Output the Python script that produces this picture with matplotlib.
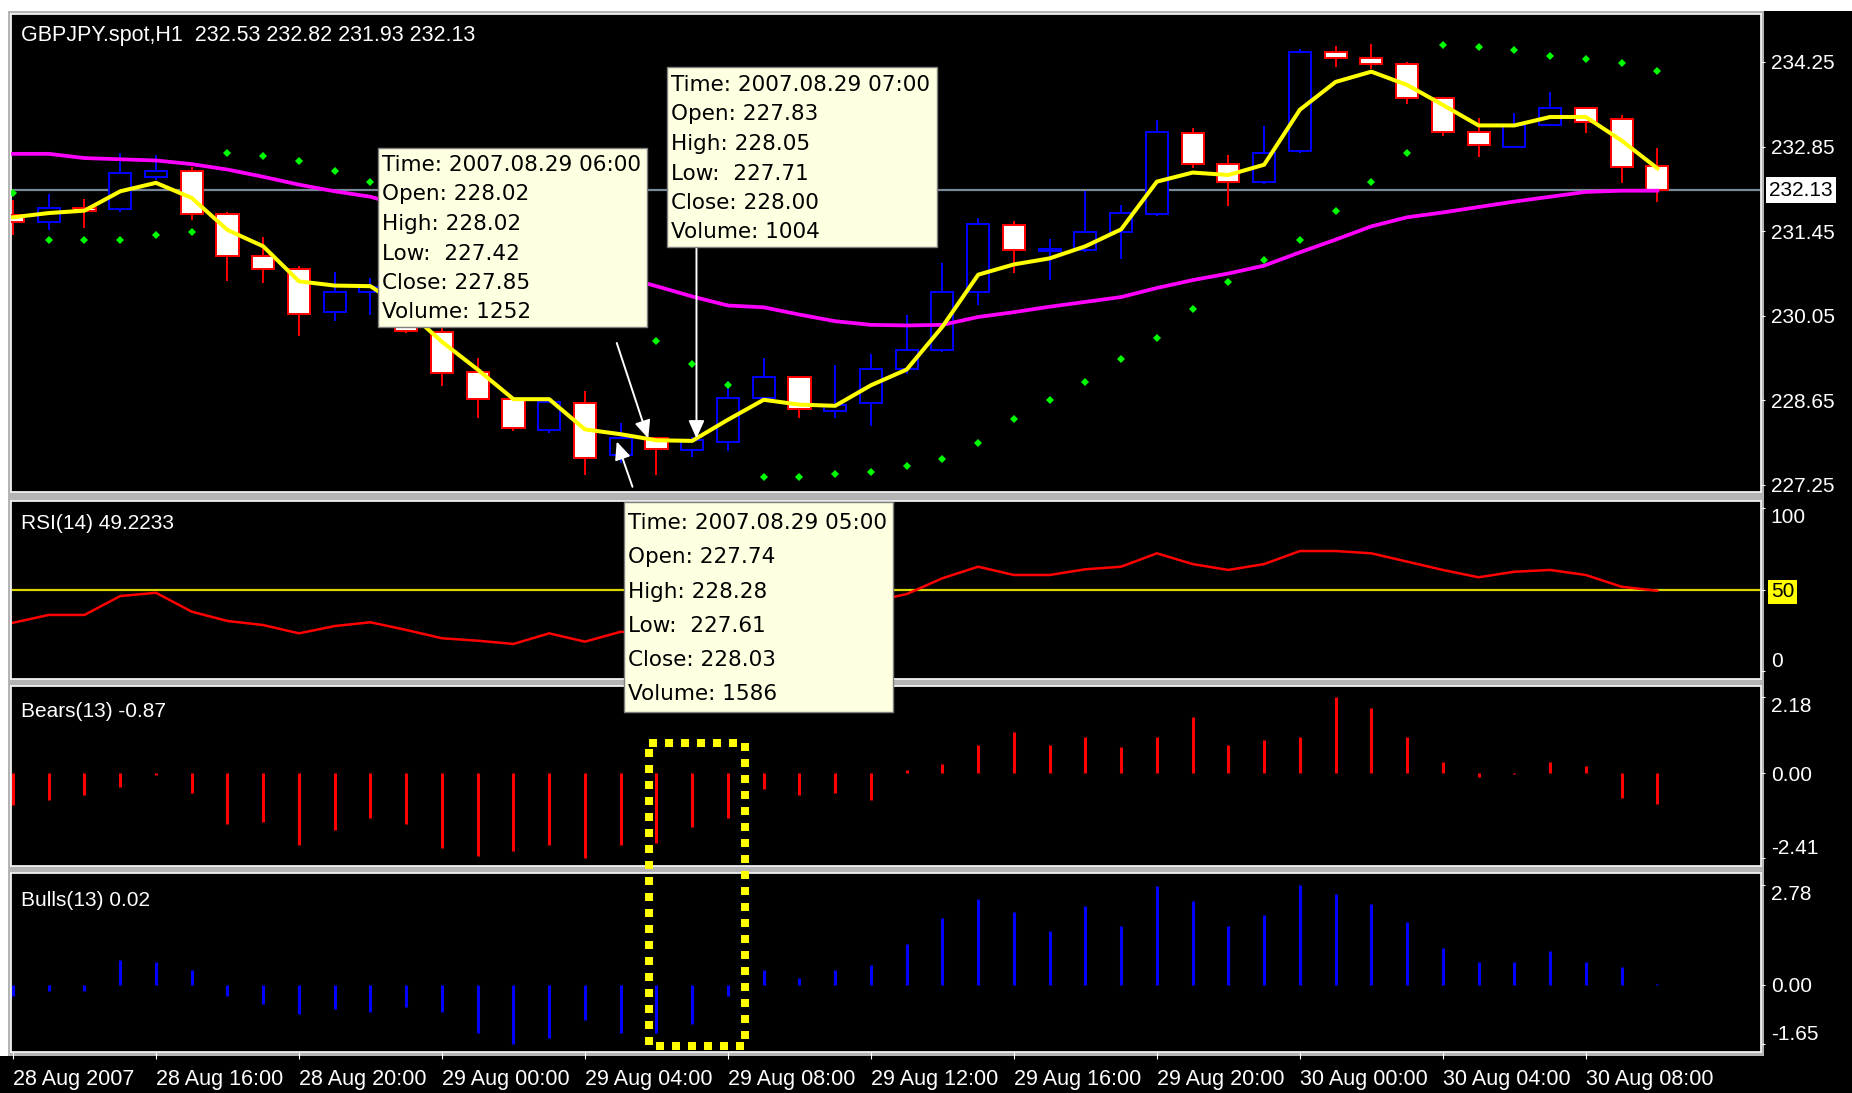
import matplotlib.pyplot as plt
from matplotlib.patches import Rectangle

plt.rcParams['font.family'] = ['Liberation Sans', 'DejaVu Sans']

W, H = 1852, 1093

# GBPJPY.spot H1, one bar per hour, 28 Aug 2007 12:00 .. 30 Aug 2007 10:00
opens = [231.72, 231.61, 231.84, 231.82, 232.35, 232.44, 231.74, 231.04, 230.83, 230.11,
         230.45, 230.50, 229.78, 229.12, 228.67, 228.16, 228.60, 227.74, 228.02, 227.83,
         227.96, 228.69, 229.04, 228.48, 228.60, 229.17, 229.48, 230.44, 231.55, 231.13,
         231.14, 231.43, 231.74, 233.08, 232.56, 232.26, 232.78, 234.41, 234.31, 234.22,
         233.65, 233.09, 232.84, 233.21, 233.49, 233.30, 232.53]
highs = [231.97, 232.07, 231.98, 232.75, 232.71, 232.51, 231.76, 231.36, 230.88, 230.78,
         230.67, 230.60, 229.85, 229.35, 228.68, 228.63, 228.80, 228.28, 228.02, 228.05,
         228.97, 229.35, 229.06, 229.24, 229.41, 230.07, 230.92, 231.67, 231.62, 231.32,
         232.11, 231.88, 233.29, 233.15, 232.71, 233.19, 234.46, 234.51, 234.54, 234.25,
         233.67, 233.32, 233.40, 233.76, 233.51, 233.37, 232.82]
lows = [231.39, 231.47, 231.50, 231.77, 232.30, 231.64, 230.62, 230.60, 229.71, 229.97,
        230.07, 229.76, 228.88, 228.36, 228.14, 228.11, 227.42, 227.61, 227.42, 227.71,
        227.82, 228.65, 228.36, 228.36, 228.22, 229.08, 229.45, 230.23, 230.76, 230.64,
        231.10, 230.99, 231.70, 232.50, 231.86, 232.23, 232.74, 234.17, 234.13, 233.56,
        233.03, 232.68, 232.82, 233.19, 233.07, 232.25, 231.93]
closes = [231.60, 231.83, 231.79, 232.41, 232.45, 231.74, 231.04, 230.82, 230.08, 230.44,
          230.52, 229.80, 229.11, 228.67, 228.20, 228.62, 227.70, 228.03, 227.85, 228.00,
          228.69, 229.04, 228.50, 228.58, 229.17, 229.48, 230.44, 231.57, 231.14, 231.15,
          231.44, 231.75, 233.09, 232.56, 232.26, 232.74, 234.41, 234.31, 234.22, 233.65,
          233.09, 232.87, 233.21, 233.49, 233.26, 232.52, 232.13]

fast_ma = [231.68, 231.75, 231.79, 232.11, 232.25, 232.00, 231.47, 231.20, 230.62, 230.55,
           230.54, 230.15, 229.62, 229.16, 228.67, 228.67, 228.17, 228.09, 227.99, 227.98,
           228.33, 228.66, 228.58, 228.56, 228.90, 229.16, 229.87, 230.73, 230.90, 231.00,
           231.20, 231.48, 232.27, 232.42, 232.38, 232.55, 233.46, 233.92, 234.09, 233.87,
           233.54, 233.20, 233.20, 233.34, 233.34, 232.95, 232.49]
slow_ma = [232.73, 232.73, 232.66, 232.64, 232.62, 232.56, 232.47, 232.35, 232.22, 232.11,
           232.02, 231.85, 231.65, 231.45, 231.25, 231.05, 230.88, 230.70, 230.54, 230.37,
           230.22, 230.19, 230.07, 229.96, 229.90, 229.89, 229.90, 230.03, 230.11, 230.20,
           230.28, 230.36, 230.51, 230.64, 230.75, 230.88, 231.10, 231.31, 231.53, 231.68,
           231.76, 231.85, 231.94, 232.02, 232.10, 232.12, 232.12]
sar = [232.08, 231.31, 231.31, 231.31, 231.39, 231.44, 232.74, 232.70, 232.61, 232.44,
       232.26, 232.05, 231.75, 231.40, 231.05, 230.65, 230.30, 230.00, 229.64, 229.26,
       228.91, 227.38, 227.38, 227.43, 227.47, 227.56, 227.68, 227.95, 228.34, 228.65,
       228.96, 229.34, 229.69, 230.17, 230.61, 230.97, 231.31, 231.79, 232.26, 232.74,
       234.53, 234.49, 234.44, 234.35, 234.30, 234.23, 234.10]

rsi = [29.6, 34.4, 34.4, 46.0, 48.0, 36.4, 30.7, 28.2, 23.1, 27.6,
       29.9, 25.2, 20.1, 18.6, 16.6, 23.1, 18.0, 24.1, 22.5, 27.0,
       34.0, 38.5, 36.0, 37.0, 42.5, 47.2, 56.9, 64.0, 58.9, 58.9,
       62.4, 64.0, 72.2, 65.6, 62.0, 65.6, 73.6, 73.6, 72.2, 67.1,
       62.0, 57.5, 60.9, 62.0, 58.9, 51.7, 49.2233]
bears = [-0.90, -0.75, -0.61, -0.38, -0.03, -0.55, -1.44, -1.37, -2.04, -1.61,
         -1.28, -1.44, -2.13, -2.34, -2.20, -2.04, -2.41, -2.04, -1.97, -1.52,
         -1.28, -0.45, -0.61, -0.55, -0.75, 0.10, 0.27, 0.81, 1.17, 0.81,
         1.03, 0.74, 1.03, 1.62, 0.81, 0.95, 1.03, 2.18, 1.86, 1.03,
         0.34, -0.09, -0.02, 0.34, 0.22, -0.71, -0.87]
bulls = [-0.31, -0.17, -0.17, 0.70, 0.64, 0.42, -0.31, -0.53, -0.82, -0.68,
         -0.75, -0.61, -0.75, -1.33, -1.65, -1.47, -0.98, -1.33, -1.33, -1.10,
         -0.30, 0.42, 0.19, 0.42, 0.56, 1.14, 1.87, 2.39, 2.02, 1.50,
         2.18, 1.65, 2.75, 2.32, 1.65, 1.95, 2.78, 2.53, 2.24, 1.74,
         1.01, 0.63, 0.63, 0.93, 0.63, 0.50, 0.02]

time_ticks = list(range(0, 47, 4))
time_labels = ["28 Aug 2007", "28 Aug 16:00", "28 Aug 20:00", "29 Aug 00:00",
               "29 Aug 04:00", "29 Aug 08:00", "29 Aug 12:00", "29 Aug 16:00",
               "29 Aug 20:00", "30 Aug 00:00", "30 Aug 04:00", "30 Aug 08:00"]
price_ticks = [227.25, 228.65, 230.05, 231.45, 232.85, 234.25]

tip_bars = [18, 19, 17]
tip_times = ["2007.08.29 06:00", "2007.08.29 07:00", "2007.08.29 05:00"]
tip_volumes = [1252, 1004, 1586]

# tooltip boxes in pixels: left, top, right, bottom, first line y, line step
tip_boxes = [(378, 148, 647, 327, 165, 29.5),
             (667, 67, 937, 247, 85, 29.5),
             (624, 502, 893, 712, 523, 34.3)]
# arrows (tail, head) in bar / price units
arrows = [((16.89, 229.60), (17.77, 228.02)),
          ((19.12, 231.17), (19.12, 228.02)),
          ((17.33, 227.22), (16.89, 227.97))]

fig = plt.figure(figsize=(W / 100, H / 100), dpi=100, facecolor='black')

bg = fig.add_axes([0, 0, 1, 1], zorder=-5)
bg.set_xlim(0, W)
bg.set_ylim(H, 0)
bg.axis('off')
bg.add_patch(Rectangle((8, 11), 1756, 1045, facecolor='#b4b4b4', edgecolor='none'))
bg.add_patch(Rectangle((0, 0), W, 11, facecolor='white', edgecolor='none'))
bg.add_patch(Rectangle((0, 0), 8, 1056, facecolor='white', edgecolor='none'))


def panel(top, bottom):
    ax = fig.add_axes([11 / W, 1 - bottom / H, 1750 / W, (bottom - top) / H])
    ax.set_facecolor('black')
    for s in ax.spines.values():
        s.set_color('#f0f0f0')
        s.set_linewidth(1.3)
    ax.yaxis.tick_right()
    ax.tick_params(axis='y', color='white', labelcolor='white', labelsize=15,
                   length=3, pad=4)
    ax.tick_params(axis='x', bottom=False, labelbottom=False)
    ax.set_xlim(-0.056, 48.9)
    return ax


xs = list(range(len(opens)))

# ---- price window
ax = panel(14, 492)
ax.set_ylim(227.134, 235.044)
ax.axhline(closes[-1], color='#778899', lw=1.6, zorder=1)
up = [c >= o for o, c in zip(opens, closes)]
edge = ['#0000ff' if u else '#ff0000' for u in up]
fill = ['black' if u else 'white' for u in up]
ax.vlines(xs, lows, highs, colors=edge, lw=1.4, zorder=2)
ax.bar(xs, [max(abs(c - o), 0.004) for o, c in zip(opens, closes)],
       bottom=[min(o, c) for o, c in zip(opens, closes)], width=0.62,
       color=fill, edgecolor=edge, linewidth=1.4, zorder=3)
ax.plot(xs, slow_ma, color='#ff00ff', lw=2.7, zorder=4)
ax.plot(xs, fast_ma, color='#ffff00', lw=2.9, zorder=5)
ax.plot(xs, sar, ls='none', marker='D', ms=4.5, mew=0, color='#00ff00', zorder=6)
ax.set_yticks(price_ticks, [f'{p:.2f}' for p in price_ticks])
ax.text(1.0046, closes[-1], f'{closes[-1]:.2f}', transform=ax.get_yaxis_transform(),
        ha='left', va='center', fontsize=15, color='black',
        bbox=dict(boxstyle='square,pad=0.15', facecolor='white', edgecolor='none'))
ax.text(0.0057, 0.956, f'GBPJPY.spot,H1  {opens[-1]:.2f} {highs[-1]:.2f} '
        f'{lows[-1]:.2f} {closes[-1]:.2f}', transform=ax.transAxes,
        color='white', fontsize=15.5, va='center')
for tail, head in arrows:
    ax.annotate('', xy=head, xytext=tail, annotation_clip=False, zorder=7,
                arrowprops=dict(arrowstyle='-|>,head_length=0.9,head_width=0.4',
                                color='white', lw=1.4, shrinkA=0, shrinkB=0,
                                mutation_scale=12))

# ---- RSI
ax_rsi = panel(501, 679)
ax_rsi.set_ylim(-4.9, 104.3)
ax_rsi.axhline(50, color='#d8d800', lw=1.6)
ax_rsi.plot(xs, rsi, color='#ff0000', lw=1.8)
ax_rsi.set_yticks([0, 50, 100], ['0', '50', '100'])
ax_rsi.text(0.0057, 0.871, f'RSI(14) {rsi[-1]:.4f}', transform=ax_rsi.transAxes,
            color='white', fontsize=15, va='center')

# ---- Bears power
ax_bears = panel(686, 866)
ax_bears.set_ylim(-2.638, 2.493)
ax_bears.vlines(xs, 0, bears, colors='#ff0000', lw=2.2)
ax_bears.set_yticks([min(bears), 0, max(bears)],
                    [f'{min(bears):.2f}', '0.00', f'{max(bears):.2f}'])
ax_bears.text(0.0057, 0.856, f'Bears(13) {bears[-1]:.2f}', transform=ax_bears.transAxes,
              color='white', fontsize=15, va='center')

# ---- Bulls power
ax_bulls = panel(873, 1052)
ax_bulls.set_ylim(-1.872, 3.112)
ax_bulls.vlines(xs, 0, bulls, colors='#0000ff', lw=2.2)
ax_bulls.set_yticks([min(bulls), 0, max(bulls)],
                    [f'{min(bulls):.2f}', '0.00', f'{max(bulls):.2f}'])
ax_bulls.text(0.0057, 0.849, f'Bulls(13) {bulls[-1]:.2f}', transform=ax_bulls.transAxes,
              color='white', fontsize=15, va='center')
ax_bulls.set_xticks(time_ticks, time_labels, ha='left')
ax_bulls.tick_params(axis='x', bottom=True, labelbottom=True, color='white',
                     labelcolor='white', labelsize=15.5, length=5, pad=7)

for a in (ax_rsi, ax_bears, ax_bulls):
    ticks = a.yaxis.get_major_ticks()
    ticks[0].label2.set_va('bottom')
    ticks[-1].label2.set_va('top')
mid = ax_rsi.yaxis.get_major_ticks()[1].label2
mid.set_color('black')
mid.set_bbox(dict(boxstyle='square,pad=0.12', facecolor='#ffff00', edgecolor='none'))

# ---- tooltips and marker box drawn on top of everything
ov = fig.add_axes([0, 0, 1, 1], zorder=10)
ov.set_xlim(0, W)
ov.set_ylim(H, 0)
ov.axis('off')
for i, t, v, (x0, y0, x1, y1, ly, step) in zip(tip_bars, tip_times, tip_volumes, tip_boxes):
    ov.add_patch(Rectangle((x0, y0), x1 - x0, y1 - y0, facecolor='#ffffe1',
                           edgecolor='#808080', lw=1.0))
    lines = [f'Time: {t}', f'Open: {opens[i]:.2f}', f'High: {highs[i]:.2f}',
             f'Low:  {lows[i]:.2f}', f'Close: {closes[i]:.2f}', f'Volume: {v}']
    for k, s in enumerate(lines):
        ov.text(x0 + 4, ly + k * step, s, family='DejaVu Sans', fontsize=15.5,
                color='black', va='center', ha='left')
ov.add_patch(Rectangle((649, 743), 96, 303, fill=False, edgecolor='#ffff00',
                       lw=5.76, linestyle=(0, (1, 1))))

fig.savefig('out.png', dpi=100, facecolor='black')
